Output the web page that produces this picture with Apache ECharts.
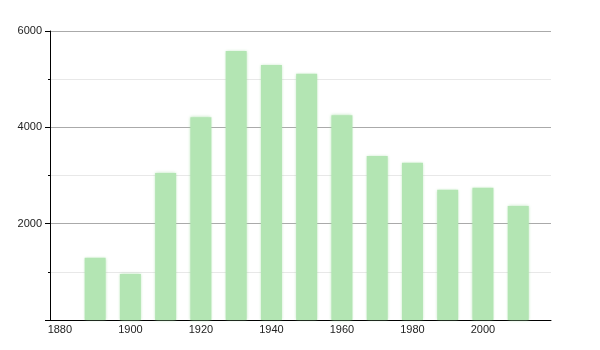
<!DOCTYPE html>
<html><head><meta charset="utf-8">
<script src="https://cdn.jsdelivr.net/npm/echarts@6/dist/echarts.min.js"></script>
<style>html,body{margin:0;padding:0;background:#fff}#c{width:600px;height:350px}</style>
</head><body><div id="c"></div>
<script>
var years = [1890, 1900, 1910, 1920, 1930, 1940, 1950, 1960, 1970, 1980, 1990, 2000, 2010];
var values = [1290, 955, 3050, 4210, 5585, 5295, 5110, 4250, 3405, 3265, 2705, 2745, 2365];
var xTickLabels = [1880, 1900, 1920, 1940, 1960, 1980, 2000];
var yTickLabels = [2000, 4000, 6000];

var chart = echarts.init(document.getElementById('c'), null, {renderer: 'canvas'});
chart.setOption({
  animation: false,
  grid: {left: 50, right: 49, top: 31, bottom: 30},
  xAxis: {
    type: 'value', min: 1877.2, max: 2019.3,
    axisLine: {show: true, lineStyle: {color: '#000', width: 1}},
    axisTick: {show: false},
    splitLine: {show: false},
    axisLabel: {customValues: xTickLabels, color: '#222', fontSize: 11, fontFamily: 'Liberation Sans', margin: 4, formatter: function(v){return String(v);}}
  },
  yAxis: {
    type: 'value', min: 0, max: 6000, interval: 2000,
    axisLine: {show: true, lineStyle: {color: '#000', width: 1}},
    axisTick: {show: true, length: 5, lineStyle: {color: '#000'}},
    minorTick: {show: true, splitNumber: 2, length: 2, lineStyle: {color: '#000'}},
    splitLine: {show: true, lineStyle: {color: '#aaa', width: 1}},
    minorSplitLine: {show: true, lineStyle: {color: '#e8e8e8', width: 1}},
    axisLabel: {color: '#222', fontSize: 11, fontFamily: 'Liberation Sans', margin: 8,
      formatter: function(v){return v === 0 ? '' : String(v);}}
  },
  series: [{
    type: 'bar',
    data: years.map(function(y, i){return [y, values[i]];}),
    barWidth: 21,
    itemStyle: {color: '#b3e5b3', shadowColor: 'rgba(160,220,160,0.8)', shadowBlur: 3}
  }]
});
</script></body></html>
